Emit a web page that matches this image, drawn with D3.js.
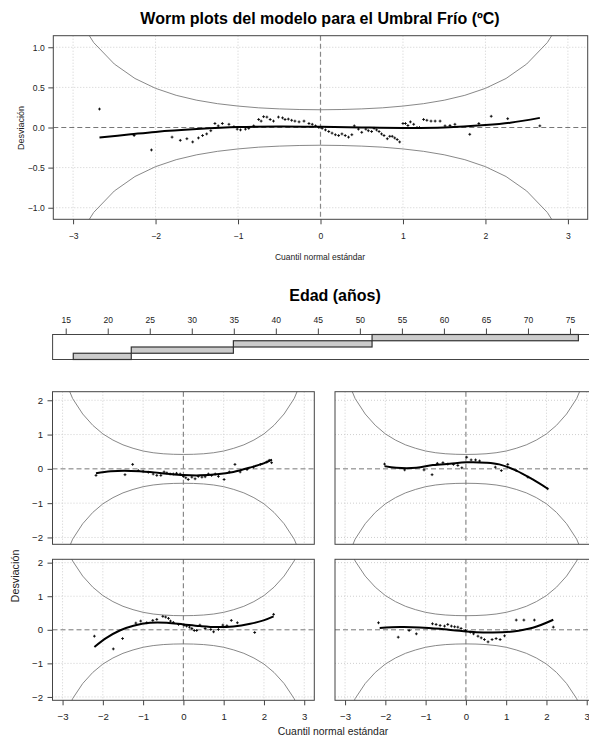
<!DOCTYPE html>
<html><head><meta charset="utf-8">
<script src="https://cdn.jsdelivr.net/npm/d3@7"></script>
<style>
body{margin:0;background:#fff}
svg{display:block;font-family:"Liberation Sans",Arial,Helvetica,sans-serif}
</style>
</head><body>
<svg id="c" width="589" height="736"></svg>
<script>
// ---------------- data ----------------
const mainTitle = "Worm plots del modelo para el Umbral Frío (ºC)";
const condTitle = "Edad (años)";
const xLabel = "Cuantil normal estándar";
const yLabel = "Desviación";

const zTicks = [-3, -2, -1, 0, 1, 2, 3];
const topYTicks = [-1, -0.5, 0, 0.5, 1];
const panelYTicks = [-2, -1, 0, 1, 2];
const ageTicks = [15, 20, 25, 30, 35, 40, 45, 50, 55, 60, 65, 70, 75];

// age intervals (shingle levels), level 1 .. 4
const ageIntervals = [[15.9, 22.8], [22.8, 34.95], [34.95, 51.45], [51.45, 76.0]];

// confidence band (upper limit; lower limit is its negative) at z = 0, 0.25, ..., 3
const bandZHalf = [0, 0.25, 0.5, 0.75, 1, 1.25, 1.5, 1.75, 2, 2.25, 2.5, 2.75, 3];
const topBandHalf = [0.221, 0.224, 0.232, 0.245, 0.267, 0.297, 0.340, 0.401, 0.488, 0.611, 0.791, 1.058, 1.463];
const panelBandHalf = [0.42, 0.425, 0.44, 0.47, 0.52, 0.60, 0.70, 0.84, 1.02, 1.27, 1.60, 2.05, 2.75];

// overall worm plot: points [z, deviation]
const topPoints = [[-2.68,0.23],[-2.26,-0.10],[-2.05,-0.28],[-1.80,-0.12],[-1.70,-0.16],[-1.62,-0.14],[-1.55,-0.18],[-1.48,-0.13],[-1.43,-0.10],[-1.38,-0.08],[-1.33,-0.04],[-1.28,0.05],[-1.24,0.02],[-1.19,0.05],[-1.11,0.04],[-1.05,0.01],[-1.01,-0.02],[-0.97,-0.03],[-0.91,-0.02],[-0.87,-0.01],[-0.81,0.02],[-0.75,0.10],[-0.72,0.08],[-0.69,0.135],[-0.65,0.13],[-0.61,0.10],[-0.57,0.08],[-0.51,0.13],[-0.46,0.12],[-0.43,0.10],[-0.39,0.105],[-0.35,0.09],[-0.31,0.08],[-0.26,0.07],[-0.20,0.08],[-0.14,0.05],[-0.10,0.04],[-0.06,0.02],[-0.02,0.0],[0.02,-0.01],[0.06,-0.03],[0.10,-0.05],[0.14,-0.07],[0.18,-0.09],[0.22,-0.10],[0.26,-0.08],[0.30,-0.10],[0.34,-0.12],[0.38,-0.09],[0.41,0.02],[0.46,-0.02],[0.50,-0.06],[0.55,-0.02],[0.58,-0.04],[0.62,-0.05],[0.65,-0.01],[0.68,-0.03],[0.71,-0.05],[0.74,-0.08],[0.77,-0.10],[0.81,-0.14],[0.84,-0.11],[0.87,-0.11],[0.90,-0.13],[0.93,-0.15],[0.96,-0.18],[1.00,0.05],[1.03,0.05],[1.06,0.025],[1.09,0.07],[1.13,0.04],[1.17,0.0],[1.20,0.0],[1.25,0.10],[1.29,0.09],[1.34,0.08],[1.39,0.08],[1.45,0.08],[1.51,0.02],[1.57,0.025],[1.63,0.04],[1.81,-0.085],[1.92,0.05],[2.07,0.14],[2.27,0.11],[2.66,0.02]];
const topWorm = [[-2.68,-0.125],[-2.3,-0.085],[-2,-0.055],[-1.5,-0.02],[-1,0.005],[-0.5,0.012],[0,0.008],[0.5,0.0],[1,-0.005],[1.5,0.0],[2,0.03],[2.3,0.06],[2.66,0.12]];

// conditioned worm plots (by age level)
const level1Points = [[-2.21,-0.19],[-1.74,-0.57],[-1.51,-0.26],[-1.18,0.20],[-1.06,0.26],[-0.91,0.21],[-0.76,0.28],[-0.66,0.31],[-0.51,0.40],[-0.44,0.38],[-0.37,0.34],[-0.32,0.26],[-0.25,0.22],[-0.12,0.16],[0.02,0.14],[0.08,0.11],[0.15,0.08],[0.21,0.04],[0.27,-0.02],[0.33,-0.02],[0.41,0.14],[0.54,0.04],[0.68,0.01],[0.75,-0.06],[0.87,0.01],[0.98,0.14],[1.08,0.12],[1.19,0.28],[1.34,0.21],[1.77,-0.08],[2.24,0.46]];
const level1Worm = [[-2.21,-0.51],[-1.91,-0.24],[-1.58,-0.02],[-1.24,0.12],[-0.83,0.21],[-0.41,0.21],[0,0.16],[0.41,0.11],[0.83,0.08],[1.24,0.10],[1.66,0.18],[1.99,0.28],[2.24,0.40]];

const level2Points = [[-2.17,0.21],[-1.68,-0.22],[-1.41,-0.02],[-1.23,-0.12],[-0.83,0.18],[-0.74,0.16],[-0.64,0.13],[-0.53,0.11],[-0.45,0.16],[-0.36,0.11],[-0.28,0.09],[-0.20,0.08],[-0.12,0.04],[-0.01,-0.02],[0.11,-0.07],[0.19,-0.12],[0.30,-0.19],[0.38,-0.24],[0.46,-0.29],[0.55,-0.36],[0.65,-0.29],[0.75,-0.26],[0.85,-0.29],[0.96,-0.18],[1.25,0.29],[1.44,0.29],[1.70,0.29],[2.17,0.08]];
const level2Worm = [[-2.14,0.05],[-1.64,0.08],[-1.15,0.07],[-0.65,0.03],[-0.16,-0.03],[0.26,-0.07],[0.67,-0.08],[1.17,-0.05],[1.66,0.06],[2.17,0.30]];

const level3Points = [[-2.17,-0.19],[-1.45,-0.17],[-1.26,0.13],[-1.12,-0.05],[-1.0,-0.07],[-0.87,-0.10],[-0.75,-0.15],[-0.66,-0.19],[-0.56,-0.19],[-0.48,-0.09],[-0.41,-0.12],[-0.33,-0.15],[-0.25,-0.15],[-0.17,-0.13],[-0.08,-0.15],[0.0,-0.22],[0.06,-0.26],[0.12,-0.31],[0.21,-0.24],[0.29,-0.29],[0.37,-0.22],[0.46,-0.24],[0.54,-0.23],[0.62,-0.15],[0.70,-0.19],[0.79,-0.15],[0.87,-0.22],[1.01,-0.31],[1.14,-0.09],[1.28,0.13],[1.41,-0.09],[1.58,-0.02],[1.74,0.05],[1.91,0.13],[2.07,0.20],[2.13,0.25],[2.19,0.18]];
const level3Worm = [[-2.17,-0.13],[-1.8,-0.07],[-1.3,-0.06],[-0.83,-0.09],[-0.41,-0.14],[0,-0.18],[0.41,-0.19],[0.83,-0.16],[1.24,-0.09],[1.66,0.04],[1.99,0.16],[2.2,0.27]];

const level4Points = [[-2.02,0.14],[-1.52,-0.03],[-1.04,-0.03],[-0.84,-0.17],[-0.71,0.16],[-0.57,0.18],[-0.45,0.14],[-0.31,0.13],[-0.20,0.10],[-0.10,0.03],[0.02,0.34],[0.13,0.26],[0.24,0.26],[0.34,0.23],[0.73,0.05],[0.88,-0.05],[1.04,0.13],[1.25,-0.05],[1.54,-0.24],[2.03,-0.58]];
const level4Worm = [[-2.02,0.08],[-1.73,0.03],[-1.23,0.03],[-0.82,0.11],[-0.40,0.15],[0.01,0.19],[0.5,0.18],[0.83,0.13],[1.25,-0.05],[1.66,-0.31],[2.03,-0.58]];

// ---------------- drawing ----------------
const svg = d3.select("#c");
const defs = svg.append("defs");
const INK = "#222", BOX = "#444";

function mirrorBand(halfZ, halfV) {
  const pts = [];
  for (let i = halfZ.length - 1; i > 0; i--) pts.push([-halfZ[i], halfV[i]]);
  for (let i = 0; i < halfZ.length; i++) pts.push([halfZ[i], halfV[i]]);
  return pts;
}

let clipN = 0;
function drawPanel(cfg) {
  const x = d3.scaleLinear().domain(cfg.xDomain).range([cfg.left, cfg.right]);
  const y = d3.scaleLinear().domain(cfg.yDomain).range([cfg.bottom, cfg.top]);
  const id = "clip" + (clipN++);
  defs.append("clipPath").attr("id", id).append("rect")
    .attr("x", cfg.left).attr("y", cfg.top)
    .attr("width", cfg.right - cfg.left).attr("height", cfg.bottom - cfg.top);
  const g = svg.append("g");
  const inner = g.append("g").attr("clip-path", `url(#${id})`);

  // grid
  inner.selectAll(null).data(zTicks.filter(v => v !== 0)).join("line")
    .attr("x1", d => x(d)).attr("x2", d => x(d))
    .attr("y1", cfg.top).attr("y2", cfg.bottom)
    .attr("stroke", "#cfcfcf").attr("stroke-width", 1).attr("stroke-dasharray", "1,2");
  inner.selectAll(null).data(cfg.yTicks.filter(v => v !== 0)).join("line")
    .attr("y1", d => y(d)).attr("y2", d => y(d))
    .attr("x1", cfg.left).attr("x2", cfg.right)
    .attr("stroke", "#cfcfcf").attr("stroke-width", 1).attr("stroke-dasharray", "1,2");

  // zero reference lines
  inner.append("line").attr("x1", cfg.left).attr("x2", cfg.right)
    .attr("y1", y(0)).attr("y2", y(0))
    .attr("stroke", "#777").attr("stroke-dasharray", "5,3");
  inner.append("line").attr("x1", x(0)).attr("x2", x(0))
    .attr("y1", cfg.top).attr("y2", cfg.bottom)
    .attr("stroke", "#888").attr("stroke-width", 1.2).attr("stroke-dasharray", "5,3");

  // confidence curves
  const band = mirrorBand(bandZHalf, cfg.band);
  const line = d3.line().x(d => x(d[0])).y(d => y(d[1]));
  inner.append("path").attr("d", line(band)).attr("fill", "none")
    .attr("stroke", "#7a7a7a").attr("stroke-width", 0.9);
  inner.append("path").attr("d", line(band.map(d => [d[0], -d[1]]))).attr("fill", "none")
    .attr("stroke", "#7a7a7a").attr("stroke-width", 0.9);

  // points (small crosses)
  inner.selectAll(null).data(cfg.points).join("path")
    .attr("d", d => {
      const px = x(d[0]), py = y(d[1]), s = 1.4;
      return `M${px - s},${py}H${px + s}M${px},${py - s}V${py + s}`;
    })
    .attr("stroke", "#000").attr("stroke-width", 0.9);

  // worm (fitted curve)
  inner.append("path")
    .attr("d", d3.line().x(d => x(d[0])).y(d => y(d[1])).curve(d3.curveCatmullRom)(cfg.worm))
    .attr("fill", "none").attr("stroke", "#000").attr("stroke-width", 2);

  // box
  g.append("rect").attr("x", cfg.left).attr("y", cfg.top)
    .attr("width", cfg.right - cfg.left).attr("height", cfg.bottom - cfg.top)
    .attr("fill", "none").attr("stroke", BOX).attr("stroke-width", 1);

  // axes
  if (cfg.showY) {
    const ay = g.append("g").attr("transform", `translate(${cfg.left},0)`)
      .call(d3.axisLeft(y).tickValues(cfg.yTicks).tickSize(5).tickPadding(cfg.yPad)
        .tickFormat(cfg.yFmt));
    ay.select(".domain").remove();
    ay.selectAll("line").attr("stroke", BOX);
    ay.selectAll("text").attr("fill", INK).attr("font-size", cfg.fs)
      .attr("font-family", "'Liberation Sans', Arial, sans-serif");
  }
  if (cfg.showX) {
    const ax = g.append("g").attr("transform", `translate(0,${cfg.bottom})`)
      .call(d3.axisBottom(x).tickValues(zTicks).tickSize(5).tickPadding(cfg.xPad)
        .tickFormat(d3.format("d")));
    ax.select(".domain").remove();
    ax.selectAll("line").attr("stroke", BOX);
    ax.selectAll("text").attr("fill", INK).attr("font-size", cfg.fs)
      .attr("font-family", "'Liberation Sans', Arial, sans-serif");
  }
}

// --- top overall worm plot ---
svg.append("text").attr("x", 320).attr("y", 24).attr("text-anchor", "middle")
  .attr("font-size", 16).attr("font-weight", "bold").attr("fill", "#000").text(mainTitle);

drawPanel({
  left: 53.3, right: 587.7, top: 35.7, bottom: 219.3,
  xDomain: [-3.24, 3.24], yDomain: [-1.144, 1.144],
  yTicks: topYTicks, yFmt: d3.format(".1f"),
  band: topBandHalf, points: topPoints, worm: topWorm,
  showX: true, showY: true, fs: 8.6, xPad: 8.5, yPad: 3.5
});
svg.append("text").attr("x", 320).attr("y", 259.5).attr("text-anchor", "middle")
  .attr("font-size", 8.5).attr("fill", INK).text(xLabel);
svg.append("text").attr("transform", "translate(21.3,128) rotate(-90)").attr("dy", "0.35em")
  .attr("text-anchor", "middle").attr("font-size", 9).attr("fill", INK).text(yLabel);

// --- conditioning (age) panel ---
svg.append("text").attr("x", 335).attr("y", 301).attr("text-anchor", "middle")
  .attr("font-size", 16).attr("font-weight", "bold").attr("fill", "#000").text(condTitle);

const condLeft = 52.6, condRight = 599.4, condTop = 334.5, condBottom = 359.5;
const ageX = d3.scaleLinear().domain([13.44, 78.5]).range([condLeft, condRight]);
const levelY = d3.scaleBand().domain(d3.range(ageIntervals.length)).range([condBottom, condTop]);

const condG = svg.append("g");
condG.append("rect").attr("x", condLeft).attr("y", condTop)
  .attr("width", condRight - condLeft).attr("height", condBottom - condTop)
  .attr("fill", "#fff").attr("stroke", BOX).attr("stroke-width", 1);
condG.selectAll(null).data(ageIntervals).join("rect")
  .attr("x", d => ageX(d[0])).attr("width", d => ageX(d[1]) - ageX(d[0]))
  .attr("y", (d, i) => levelY(i)).attr("height", levelY.bandwidth())
  .attr("fill", "#cccccc").attr("stroke", "#333").attr("stroke-width", 1.2);
const axAge = condG.append("g").attr("transform", `translate(0,${condTop})`)
  .call(d3.axisTop(ageX).tickValues(ageTicks).tickSize(6).tickPadding(5.5));
axAge.select(".domain").remove();
axAge.selectAll("line").attr("stroke", BOX);
axAge.selectAll("text").attr("fill", INK).attr("font-size", 8.5)
  .attr("font-family", "'Liberation Sans', Arial, sans-serif");

// --- four conditioned worm plots ---
const colLeft = [[52.5, 314.3], [335, 596.8]];
const rowTop = { top: 391.7, bottom: 544.3, yDomain: [-2.2, 2.25] };
const rowBottom = { top: 559.3, bottom: 700.3, yDomain: [-2.1, 2.1] };

const panels = [
  { col: 0, row: rowBottom, points: level1Points, worm: level1Worm, showX: true, showY: true },
  { col: 1, row: rowBottom, points: level2Points, worm: level2Worm, showX: true, showY: false },
  { col: 0, row: rowTop, points: level3Points, worm: level3Worm, showX: false, showY: true },
  { col: 1, row: rowTop, points: level4Points, worm: level4Worm, showX: false, showY: false }
];
panels.forEach(p => drawPanel({
  left: colLeft[p.col][0], right: colLeft[p.col][1],
  top: p.row.top, bottom: p.row.bottom,
  xDomain: [-3.25, 3.25], yDomain: p.row.yDomain,
  yTicks: panelYTicks, yFmt: d3.format("d"),
  band: panelBandHalf, points: p.points, worm: p.worm,
  showX: p.showX, showY: p.showY, fs: 9.6, xPad: 8, yPad: 4.5
}));

svg.append("text").attr("x", 333).attr("y", 735.3).attr("text-anchor", "middle")
  .attr("font-size", 10.4).attr("fill", INK).text(xLabel);
svg.append("text").attr("transform", "translate(15,576) rotate(-90)").attr("dy", "0.35em")
  .attr("text-anchor", "middle").attr("font-size", 10.8).attr("fill", INK).text(yLabel);
</script>
</body></html>
